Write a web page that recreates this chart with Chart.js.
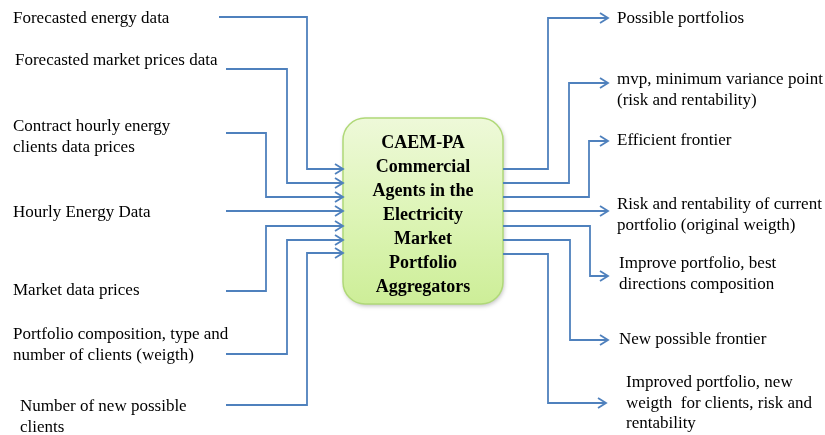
<!DOCTYPE html>
<html>
<head>
<meta charset="utf-8">
<script src="https://cdn.jsdelivr.net/npm/chart.js@4.4.0/dist/chart.umd.min.js"></script>
<style>
  html, body { margin: 0; padding: 0; background: #fff; }
  #wrap { width: 825px; height: 435px; }
</style>
</head>
<body>
<div id="wrap"><canvas id="diagram" width="825" height="435"></canvas></div>
<script>
// --- data: inputs on the left, outputs on the right ---
const inputLabels = [
  ['Forecasted energy data'],
  ['Forecasted market prices data'],
  ['Contract hourly energy', 'clients data prices'],
  ['Hourly Energy Data'],
  ['Market data prices'],
  ['Portfolio composition, type and', 'number of clients (weigth)'],
  ['Number of new possible', 'clients']
];
const outputLabels = [
  ['Possible portfolios'],
  ['mvp, minimum variance point', '(risk and rentability)'],
  ['Efficient frontier'],
  ['Risk and rentability of current', 'portfolio (original weigth)'],
  ['Improve portfolio, best', 'directions composition'],
  ['New possible frontier'],
  ['Improved portfolio, new', 'weigth  for clients, risk and', 'rentability']
];
const boxLines = ['CAEM-PA', 'Commercial', 'Agents in the', 'Electricity', 'Market', 'Portfolio', 'Aggregators'];

// connector routes (diagram units, origin top-left)
const inputPaths = [
  [[219, 17], [307, 17], [307, 169], [343, 169]],
  [[226, 69], [287, 69], [287, 183], [343, 183]],
  [[226, 133], [266, 133], [266, 197], [343, 197]],
  [[226, 211], [343, 211]],
  [[226, 291], [266, 291], [266, 226], [343, 226]],
  [[226, 354], [287, 354], [287, 240], [343, 240]],
  [[226, 405], [307, 405], [307, 253], [343, 253]]
];
const outputPaths = [
  [[503, 169], [548, 169], [548, 18], [608, 18]],
  [[503, 183], [569, 183], [569, 83], [608, 83]],
  [[503, 197], [589, 197], [589, 141], [608, 141]],
  [[503, 211], [608, 211]],
  [[503, 226], [590, 226], [590, 276], [608, 276]],
  [[503, 240], [570, 240], [570, 340], [608, 340]],
  [[503, 254], [548, 254], [548, 403], [606, 403]]
];
// first text line centre for each label
const inputAnchors = [[13, 19], [15, 61], [13, 127], [13, 213], [13, 291], [13, 335], [20, 407]];
const outputAnchors = [[617, 19], [617, 80], [617, 141], [617, 205], [619, 264], [619, 340], [626, 383]];
const boxRect = [343, 118, 503, 304];

const BLUE = '#4f81bd';
const LINE_H = 20.5;

const toPts = p => p.map(([x, y]) => ({ x, y }));
const datasets = inputPaths.concat(outputPaths).map(p => ({
  data: toPts(p),
  showLine: true,
  borderColor: BLUE,
  borderWidth: 1.8,
  pointRadius: 0,
  tension: 0,
  fill: false
}));

// plugin: box, arrow heads, texts
const diagramPlugin = {
  id: 'diagram',
  beforeDatasetsDraw(chart) {
    const { ctx, scales: { x, y } } = chart;
    const x0 = x.getPixelForValue(boxRect[0]), y0 = y.getPixelForValue(boxRect[1]);
    const x1 = x.getPixelForValue(boxRect[2]), y1 = y.getPixelForValue(boxRect[3]);
    const r = 22;
    ctx.save();
    ctx.beginPath();
    ctx.roundRect(x0, y0, x1 - x0, y1 - y0, r);
    ctx.shadowColor = 'rgba(0,0,0,0.25)';
    ctx.shadowBlur = 4;
    ctx.shadowOffsetX = 1;
    ctx.shadowOffsetY = 2;
    const g = ctx.createLinearGradient(0, y0, 0, y1);
    g.addColorStop(0, '#eef9d9');
    g.addColorStop(0.5, '#def5b8');
    g.addColorStop(1, '#cdee98');
    ctx.fillStyle = g;
    ctx.fill();
    ctx.shadowColor = 'transparent';
    ctx.strokeStyle = '#b0d978';
    ctx.lineWidth = 1.5;
    ctx.stroke();
    ctx.restore();
  },
  afterDatasetsDraw(chart) {
    const { ctx, scales: { x, y } } = chart;
    ctx.save();
    // arrow heads
    ctx.strokeStyle = BLUE;
    ctx.lineWidth = 1.8;
    inputPaths.concat(outputPaths).forEach(p => {
      const [tx, ty] = p[p.length - 1];
      const px = x.getPixelForValue(tx), py = y.getPixelForValue(ty);
      ctx.beginPath();
      ctx.moveTo(px - 8, py - 5);
      ctx.lineTo(px, py);
      ctx.lineTo(px - 8, py + 5);
      ctx.stroke();
    });
    // labels
    ctx.fillStyle = '#000';
    ctx.textBaseline = 'middle';
    ctx.textAlign = 'left';
    ctx.font = '17px "Liberation Serif", "Times New Roman", serif';
    const drawLabels = (labels, anchors) => labels.forEach((lines, i) => {
      const [ax, ay] = anchors[i];
      lines.forEach((t, j) => {
        ctx.fillText(t, x.getPixelForValue(ax), y.getPixelForValue(ay) + j * LINE_H);
      });
    });
    drawLabels(inputLabels, inputAnchors);
    drawLabels(outputLabels, outputAnchors);
    // box text
    ctx.textAlign = 'center';
    ctx.font = 'bold 18px "Liberation Serif", "Times New Roman", serif';
    const cx = x.getPixelForValue((boxRect[0] + boxRect[2]) / 2);
    boxLines.forEach((t, j) => {
      ctx.fillText(t, cx, y.getPixelForValue(143) + j * 24);
    });
    ctx.restore();
  }
};

new Chart(document.getElementById('diagram'), {
  type: 'scatter',
  data: { datasets },
  options: {
    responsive: false,
    animation: false,
    layout: { padding: 0 },
    plugins: { legend: { display: false }, tooltip: { enabled: false } },
    scales: {
      x: { type: 'linear', min: 0, max: 825, display: false },
      y: { type: 'linear', min: 0, max: 435, reverse: true, display: false }
    }
  },
  plugins: [diagramPlugin]
});
</script>
</body>
</html>
